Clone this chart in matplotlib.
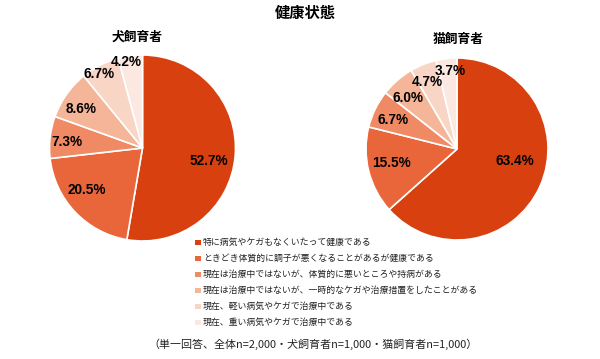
import numpy as np
import matplotlib.pyplot as plt
from matplotlib.patches import Rectangle

plt.rcParams['font.family'] = ['Noto Sans CJK JP', 'DejaVu Sans']

categories = ['特に病気やケガもなくいたって健康である',
              'ときどき体質的に調子が悪くなることがあるが健康である',
              '現在は治療中ではないが、体質的に悪いところや持病がある',
              '現在は治療中ではないが、一時的なケガや治療措置をしたことがある',
              '現在、軽い病気やケガで治療中である',
              '現在、重い病気やケガで治療中である']
dog = [52.7, 20.5, 7.3, 8.6, 6.7, 4.2]
cat = [63.4, 15.5, 6.7, 6.0, 4.7, 3.7]
colors = ['#D9400F', '#E9663A', '#EF8A64', '#F4B598', '#F8D5C4', '#FBE8E0']

fig = plt.figure(figsize=(6, 3.59), dpi=100)
W, H = 600, 359

def draw_pie(vals, cx, cy, r, title, tx, ty, dists, shifts):
    ax = fig.add_axes([(cx - r) / W, 1 - (cy + r) / H, 2 * r / W, 2 * r / H])
    wedges, _ = ax.pie(vals, colors=colors, startangle=90, counterclock=False,
                       wedgeprops=dict(edgecolor='white', linewidth=1.2))
    # label placement: mid angle plus a small shift, like Excel's best fit
    for w, v, d, s in zip(wedges, vals, dists, shifts):
        a = np.deg2rad((w.theta1 + w.theta2) / 2 + s)
        ax.text(d * np.cos(a), d * np.sin(a), f'{v:.1f}%', ha='center', va='center',
                fontsize=9.8, fontweight='bold', family='Liberation Sans')
    ax.set_xlim(-1, 1)
    ax.set_ylim(-1, 1)
    ax.set_aspect('equal')
    fig.text(tx / W, 1 - ty / H, title, ha='center', va='center', fontsize=9.2, fontweight='bold')

draw_pie(dog, 142.5, 148, 93, '犬飼育者', 137, 37,
         [0.73, 0.75, 0.81, 0.78, 0.92, 0.94], [-6, -6, 2, 3, 3, 3])
draw_pie(cat, 457, 149, 91, '猫飼育者', 458, 39,
         [0.65, 0.73, 0.77, 0.78, 0.80, 0.86], [12, -2, 2, 3, 2, -2])

fig.text(305 / W, 1 - 13 / H, '健康状態', ha='center', va='center', fontsize=11, fontweight='bold')

for i, (lab, c) in enumerate(zip(categories, colors)):
    y = 242 + 16 * i
    fig.patches.append(Rectangle((195.5 / W, 1 - (y + 2.5) / H), 5 / W, 5 / H,
                                 transform=fig.transFigure, facecolor=c, edgecolor='none'))
    fig.text(203 / W, 1 - y / H, lab, ha='left', va='center', fontsize=6.4, color='#222222')

fig.text(313 / W, 1 - 344 / H, '（単一回答、全体n=2,000・犬飼育者n=1,000・猫飼育者n=1,000）',
         ha='center', va='center', fontsize=7.9, color='#222222')

fig.savefig('out.png', dpi=100, facecolor='white')
